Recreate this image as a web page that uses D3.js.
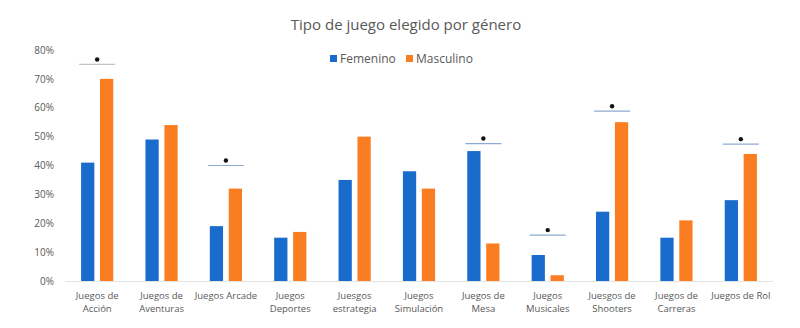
<!DOCTYPE html>
<html>
<head>
<meta charset="utf-8">
<script src="https://cdn.jsdelivr.net/npm/d3@7"></script>
<style>
  body { margin: 0; background: #fff; }
  svg { display: block; font-family: "Open Sans", sans-serif; }
</style>
</head>
<body>
<div id="chart"></div>
<script>
// Porcentaje de jugadores que eligen cada tipo de juego, por género
const categorias = [
  ['Juegos de', 'Acción'],
  ['Juegos de', 'Aventuras'],
  ['Juegos Arcade'],
  ['Juegos', 'Deportes'],
  ['Juesgos', 'estrategia'],
  ['Juegos', 'Simulación'],
  ['Juegos de', 'Mesa'],
  ['Juegos', 'Musicales'],
  ['Juesgos de', 'Shooters'],
  ['Juegos de', 'Carreras'],
  ['Juegos de Rol']
];
const femenino  = [41, 49, 19, 15, 35, 38, 45, 9, 24, 15, 28];
const masculino = [70, 54, 32, 17, 50, 32, 13, 2, 55, 21, 44];
const series = ['Femenino', 'Masculino'];
const yTicks = [0, 10, 20, 30, 40, 50, 60, 70, 80];

// diferencias significativas: índice de categoría y altura de la barra (%)
const sigIndice = [0, 2, 6, 7, 8, 10];
const sigNivel  = [75, 40, 47.6, 15.9, 58.8, 47.4];

const width = 800, height = 328;
const margin = {top: 50, right: 27, bottom: 47, left: 65};
const colores = {Femenino: '#1a6ccc', Masculino: '#fb7d22'};

const svg = d3.select('#chart').append('svg')
  .attr('width', width)
  .attr('height', height);

const x = d3.scaleBand()
  .domain(d3.range(categorias.length))
  .range([margin.left, width - margin.right]);

const x1 = d3.scaleBand()
  .domain(series)
  .range([0, x.bandwidth()])
  .paddingInner(0.3)
  .paddingOuter(0.85);

const y = d3.scaleLinear()
  .domain([0, 80])
  .range([height - margin.bottom, margin.top]);

// Title
svg.append('text')
  .attr('x', 406)
  .attr('y', 30)
  .attr('text-anchor', 'middle')
  .attr('font-size', 15)
  .attr('fill', '#595959')
  .text('Tipo de juego elegido por género');

// Legend
const legend = svg.append('g').selectAll('g')
  .data(series).enter()
  .append('g')
  .attr('transform', (d, i) => `translate(${330 + i * 76}, 0)`);
legend.append('rect')
  .attr('x', 0)
  .attr('y', 55)
  .attr('width', 7)
  .attr('height', 7)
  .attr('fill', d => colores[d]);
legend.append('text')
  .attr('x', 10)
  .attr('y', 63)
  .attr('font-size', 12)
  .attr('fill', '#595959')
  .text(d => d);

// Y axis
const yAxis = d3.axisLeft(y)
  .tickValues(yTicks)
  .tickSize(0)
  .tickPadding(11)
  .tickFormat(d => d + '%');
svg.append('g')
  .attr('transform', `translate(${margin.left},0)`)
  .call(yAxis)
  .call(g => g.select('.domain').remove())
  .selectAll('text')
  .attr('font-family', '"Open Sans", sans-serif')
  .attr('font-size', 10)
  .attr('fill', '#595959');

// Bars
const groups = svg.append('g').selectAll('g')
  .data(categorias.map((c, i) => i)).enter()
  .append('g')
  .attr('transform', i => `translate(${x(i)},0)`);

groups.selectAll('rect')
  .data(i => [
    {serie: 'Femenino', v: femenino[i]},
    {serie: 'Masculino', v: masculino[i]}
  ])
  .enter().append('rect')
  .attr('x', d => x1(d.serie))
  .attr('y', d => y(d.v))
  .attr('width', x1.bandwidth())
  .attr('height', d => y(0) - y(d.v))
  .attr('fill', d => colores[d.serie]);

// X axis line
svg.append('line')
  .attr('x1', margin.left)
  .attr('x2', width - margin.right)
  .attr('y1', y(0) + 0.5)
  .attr('y2', y(0) + 0.5)
  .attr('stroke', '#e4e4e4')
  .attr('stroke-width', 1);

// Category labels
const labels = svg.append('g').selectAll('text')
  .data(categorias).enter()
  .append('text')
  .attr('x', (d, i) => x(i) + x.bandwidth() / 2)
  .attr('y', y(0) + 18)
  .attr('text-anchor', 'middle')
  .attr('font-size', 9.5)
  .attr('fill', '#595959');
labels.selectAll('tspan')
  .data(d => d).enter()
  .append('tspan')
  .attr('x', function () { return d3.select(this.parentNode).attr('x'); })
  .attr('dy', (d, j) => j === 0 ? 0 : 13)
  .text(d => d);

// Significance markers
const sig = svg.append('g').selectAll('g')
  .data(sigIndice.map((c, k) => ({c, nivel: sigNivel[k]}))).enter()
  .append('g');
sig.append('line')
  .attr('x1', d => x(d.c) + x.bandwidth() / 2 - 18)
  .attr('x2', d => x(d.c) + x.bandwidth() / 2 + 18)
  .attr('y1', d => y(d.nivel))
  .attr('y2', d => y(d.nivel))
  .attr('stroke', (d, k) => k === 0 ? '#c4c4c4' : '#8eaad0')
  .attr('stroke-width', 1.2);
sig.append('circle')
  .attr('cx', d => x(d.c) + x.bandwidth() / 2)
  .attr('cy', d => y(d.nivel) - 5)
  .attr('r', 2.2)
  .attr('fill', '#111');
</script>
</body>
</html>
